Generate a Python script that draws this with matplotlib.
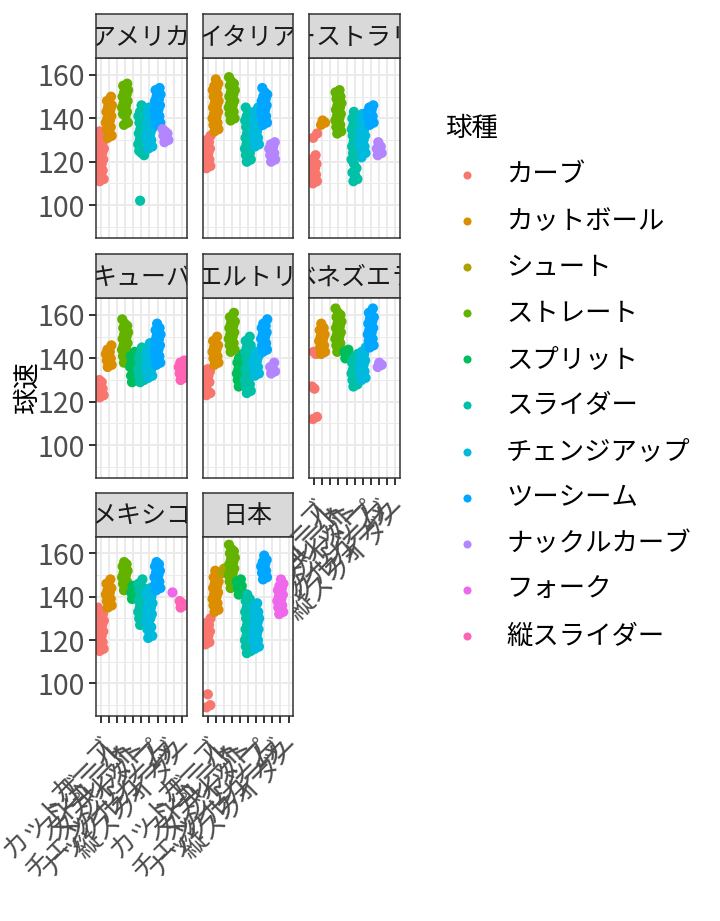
import matplotlib
matplotlib.use("Agg")
import matplotlib.pyplot as plt
from matplotlib.lines import Line2D

plt.rcParams['font.family'] = ['Noto Sans CJK JP', 'DejaVu Sans']

# pitch types (x categories, legend order) and ggplot hue colours
pitch_types = ['カーブ', 'カットボール', 'シュート', 'ストレート', 'スプリット', 'スライダー',
               'チェンジアップ', 'ツーシーム', 'ナックルカーブ', 'フォーク', '縦スライダー']
pitch_colors = ['#F8766D', '#DB8E00', '#AEA200', '#64B200', '#00BD5C', '#00C1A7',
                '#00BADE', '#00A6FF', '#B385FF', '#EF67EB', '#FF63B6']

countries = ['アメリカ', 'イタリア', 'オーストラリア', 'キューバ', 'プエルトリコ',
             'ベネズエラ', 'メキシコ', '日本']

# speeds (km/h)
usa = {
    'カーブ': [111, 112, 114, 115, 116, 117, 118, 119, 120, 121, 122, 123, 124, 125, 126, 127, 128, 129, 130, 131, 132, 134],
    'カットボール': [131, 132, 134, 135, 136, 137, 138, 139, 140, 141, 142, 143, 144, 145, 146, 147, 148, 150],
    'ストレート': [137, 138, 141, 142, 143, 144, 145, 146, 147, 148, 149, 150, 151, 152, 153, 154, 155, 156],
    'スライダー': [102, 123, 124, 125, 126, 127, 128, 129, 130, 131, 132, 133, 134, 135, 136, 137, 138, 139, 140, 141, 142, 143, 144, 146],
    'チェンジアップ': [126, 127, 128, 129, 130, 131, 132, 133, 134, 135, 136, 137, 138, 139, 140, 141, 142, 143, 145],
    'ツーシーム': [137, 138, 139, 140, 141, 142, 143, 144, 145, 146, 147, 148, 149, 150, 151, 152, 153, 154],
    'ナックルカーブ': [129, 130, 131, 132, 133, 134, 135],
}
italy = {
    'カーブ': [117, 118, 119, 120, 121, 122, 123, 124, 125, 126, 127, 128, 129, 130, 132],
    'カットボール': [134, 135, 136, 137, 138, 139, 140, 141, 142, 143, 144, 145, 146, 147, 148, 149, 150, 151, 152, 153, 154, 155, 156, 158],
    'ストレート': [139, 140, 141, 142, 143, 144, 145, 146, 147, 148, 149, 150, 151, 152, 153, 154, 155, 156, 157, 159],
    'スライダー': [120, 121, 122, 123, 124, 125, 126, 127, 128, 129, 130, 131, 132, 133, 134, 135, 136, 137, 138, 139, 140, 141, 142, 143, 145],
    'チェンジアップ': [127, 128, 129, 130, 131, 132, 133, 134, 135, 136, 137, 138, 139, 140, 141, 142, 143, 145],
    'ツーシーム': [137, 138, 139, 140, 141, 142, 143, 144, 145, 146, 147, 148, 149, 150, 151, 152, 154],
    'ナックルカーブ': [120, 121, 122, 123, 124, 125, 126, 127, 128, 129],
}
australia = {
    'カーブ': [110, 111, 112, 113, 114, 115, 116, 117, 118, 119, 120, 121, 123, 131, 133],
    'カットボール': [137, 138, 139],
    'ストレート': [133, 134, 135, 136, 137, 138, 139, 140, 141, 142, 143, 144, 145, 146, 147, 148, 149, 150, 151, 152, 153],
    'スライダー': [111, 112, 114, 115, 117, 119, 121, 123, 124, 125, 126, 127, 128, 129, 130, 131, 132, 133, 134, 135, 136, 137, 138, 139, 140, 141, 143],
    'チェンジアップ': [122, 124, 125, 126, 127, 128, 129, 130, 131, 132, 133, 134, 135, 136, 137, 138, 139, 140, 142],
    'ツーシーム': [137, 138, 139, 140, 141, 142, 143, 144, 145, 146],
    'ナックルカーブ': [123, 124, 125, 126, 127, 129],
}
cuba = {
    'カーブ': [122, 123, 124, 125, 126, 127, 128, 129, 130],
    'カットボール': [136, 137, 138, 139, 140, 141, 142, 143, 144, 146],
    'ストレート': [138, 139, 140, 141, 142, 143, 144, 145, 146, 147, 148, 149, 150, 151, 152, 153, 154, 155, 156, 158],
    'スプリット': [129, 130, 131, 132, 134, 135, 136, 137, 138, 139, 140, 141, 143],
    'スライダー': [129, 130, 131, 132, 133, 134, 135, 136, 137, 138, 139, 140, 141, 142, 143, 145],
    'チェンジアップ': [131, 132, 133, 134, 135, 136, 137, 138, 139, 140, 141, 142, 143, 144, 145, 147],
    'ツーシーム': [137, 138, 139, 140, 141, 142, 143, 144, 145, 146, 147, 148, 149, 150, 151, 152, 153, 154, 156],
    '縦スライダー': [130, 131, 132, 133, 134, 135, 136, 137, 138, 139],
}
puerto_rico = {
    'カーブ': [123, 124, 125, 128, 129, 130, 131, 132, 133, 134, 135],
    'カットボール': [137, 138, 139, 140, 141, 142, 143, 144, 145, 146, 147, 148, 150],
    'ストレート': [143, 144, 145, 146, 147, 148, 149, 150, 151, 152, 153, 154, 155, 156, 157, 158, 159, 161],
    'スプリット': [127, 128, 129, 130, 131, 132, 133, 134, 135, 136, 137, 138, 139, 140, 142],
    'スライダー': [124, 125, 126, 127, 128, 129, 130, 131, 132, 133, 134, 135, 136, 137, 138, 139, 140, 141, 142, 143, 144, 145, 146, 147, 148, 150],
    'チェンジアップ': [132, 133, 134, 135, 136, 137, 138, 139, 140, 141, 143],
    'ツーシーム': [143, 144, 145, 146, 147, 148, 149, 150, 151, 152, 153, 154, 155, 156, 158],
    'ナックルカーブ': [133, 134, 135, 136, 138],
}
venezuela = {
    'カーブ': [112, 113, 126, 127, 142, 143],
    'カットボール': [142, 143, 144, 145, 146, 147, 148, 149, 150, 151, 152, 153, 154, 156],
    'ストレート': [143, 144, 145, 146, 147, 148, 149, 150, 151, 152, 153, 154, 155, 156, 157, 158, 159, 160, 161, 163],
    'スプリット': [140, 141, 142, 143, 144],
    'スライダー': [127, 128, 129, 130, 131, 132, 133, 134, 135, 136, 137, 138, 139, 140, 142],
    'チェンジアップ': [130, 131, 132, 133, 134, 135, 136, 137, 138, 139, 140, 141, 142, 143, 145],
    'ツーシーム': [145, 146, 147, 148, 149, 150, 151, 152, 153, 154, 155, 156, 157, 158, 159, 160, 161, 163],
    'ナックルカーブ': [136, 137, 138],
}
mexico = {
    'カーブ': [115, 116, 117, 118, 119, 120, 121, 122, 123, 124, 125, 126, 127, 128, 129, 130, 131, 132, 133, 135],
    'カットボール': [135, 136, 137, 138, 139, 140, 141, 142, 143, 144, 145, 146, 148],
    'ストレート': [143, 144, 145, 146, 147, 148, 149, 150, 151, 152, 153, 154, 155, 156],
    'スプリット': [139, 140, 141, 142, 143, 145],
    'スライダー': [127, 128, 129, 130, 131, 132, 133, 134, 135, 136, 137, 138, 139, 140, 141, 142, 143, 144, 145, 146, 148],
    'チェンジアップ': [121, 122, 123, 125, 126, 128, 129, 130, 131, 132, 133, 134, 135, 136, 137, 138, 139, 140, 141, 142, 144],
    'ツーシーム': [143, 144, 145, 146, 147, 148, 149, 150, 151, 152, 153, 154, 155, 156],
    'フォーク': [142],
    '縦スライダー': [135, 136, 137, 138],
}
japan = {
    'カーブ': [89, 90, 95, 118, 119, 120, 121, 122, 123, 124, 125, 126, 127, 128, 130],
    'カットボール': [133, 134, 135, 136, 137, 138, 139, 140, 141, 142, 143, 144, 145, 146, 147, 148, 149, 150, 152],
    'シュート': [151, 152, 153],
    'ストレート': [144, 145, 146, 147, 148, 149, 150, 151, 152, 153, 154, 155, 156, 157, 158, 159, 160, 161, 162, 164],
    'スプリット': [141, 142, 143, 144, 145, 146, 147, 148],
    'スライダー': [114, 115, 116, 117, 118, 119, 120, 121, 122, 123, 124, 125, 126, 127, 128, 129, 130, 131, 132, 133, 134, 135, 136, 137, 138, 139, 141],
    'チェンジアップ': [116, 117, 118, 119, 120, 121, 122, 123, 124, 125, 126, 127, 128, 129, 130, 131, 132, 133, 134, 135, 137],
    'ツーシーム': [148, 149, 150, 151, 152, 153, 154, 155, 156, 157, 159],
    'フォーク': [132, 133, 134, 135, 136, 137, 138, 139, 140, 141, 142, 143, 144, 145, 146, 148],
}
panel_data = [usa, italy, australia, cuba, puerto_rico, venezuela, mexico, japan]

W, H = 720, 921
fig = plt.figure(figsize=(W / 100, H / 100), dpi=100)


def px_rect(left, top, width, height):
    return [left / W, 1 - (top + height) / H, width / W, height / H]


col_left = [96, 202.7, 309.3]
row_top = [58.3, 298.3, 536.7]
pw, ph, sh = 90.7, 179.5, 44
dark = '#333333'

for i, (country, speeds) in enumerate(zip(countries, panel_data)):
    r, c = divmod(i, 3)
    ax = fig.add_axes(px_rect(col_left[c], row_top[r], pw, ph))
    ax.set_xlim(0.4, 11.6)
    ax.set_ylim(84.9, 167.7)
    for y in [90, 110, 130, 150]:
        ax.axhline(y, color='#EBEBEB', lw=0.7, zorder=0)
    for y in [100, 120, 140, 160]:
        ax.axhline(y, color='#EBEBEB', lw=1.4, zorder=0)
    for k in range(1, 12):
        ax.axvline(k, color='#EBEBEB', lw=1.4, zorder=0)

    for k, pt in enumerate(pitch_types):
        if pt not in speeds:
            continue
        vals = speeds[pt]
        # deterministic jitter of +-0.4 around the category
        xs = [k + 1 + (((j * 0.618034 + 0.31) % 1) - 0.5) * 0.8 for j in range(len(vals))]
        ax.scatter(xs, vals, s=54, color=pitch_colors[k], edgecolors='none', zorder=2)

    for sp in ax.spines.values():
        sp.set_color(dark)
        sp.set_linewidth(1.1)
    ax.tick_params(length=5, width=1.4, color=dark, labelcolor='#4D4D4D', labelsize=20.5, pad=3)

    ax.set_yticks([100, 120, 140, 160])
    if c != 0:
        ax.tick_params(axis='y', length=0, labelleft=False)

    ax.set_xticks(range(1, 12))
    if i + 3 < len(countries):
        ax.tick_params(axis='x', length=0, labelbottom=False)
    else:
        ax.set_xticklabels(pitch_types, rotation=45, ha='right', va='top',
                           rotation_mode='anchor', fontsize=19)
        ax.tick_params(axis='x', pad=7)
        ax.set_zorder(3)

    sax = fig.add_axes(px_rect(col_left[c], row_top[r] - sh, pw, sh))
    sax.set_facecolor('#D9D9D9')
    sax.set_xticks([])
    sax.set_yticks([])
    for sp in sax.spines.values():
        sp.set_color(dark)
        sp.set_linewidth(1.1)
        sp.set_zorder(5)
    st = sax.text(0.5, 0.47, country, transform=sax.transAxes, ha='center', va='center',
                  fontsize=18, color='#1A1A1A')
    st.set_clip_box(sax.bbox)
    st.set_clip_on(True)

fig.text(27 / W, 1 - 388 / H, '球速', rotation=90, ha='center', va='center', fontsize=19)

# legend
fig.text(445 / W, 1 - 128 / H, '球種', ha='left', va='center', fontsize=19)
for k, pt in enumerate(pitch_types):
    yy = 1 - (175 + k * 46.1) / H
    fig.add_artist(Line2D([467 / W], [yy], marker='o', markersize=5.8, color=pitch_colors[k],
                          markeredgewidth=0, linestyle='none', transform=fig.transFigure))
    fig.text(506 / W, yy, pt, ha='left', va='center', fontsize=19)

fig.savefig('out.png', dpi=100, facecolor='white')
